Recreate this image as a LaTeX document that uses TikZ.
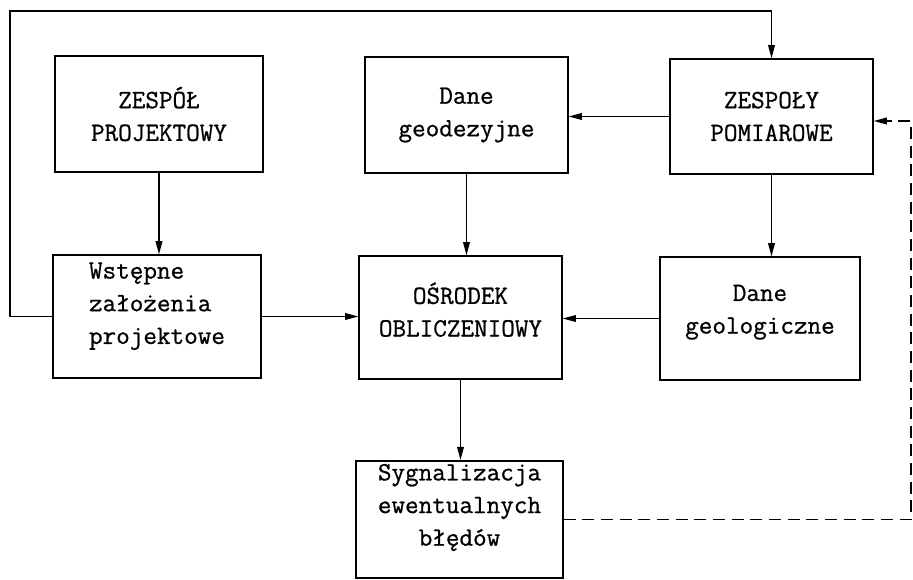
\documentclass[tikz,border=0pt]{standalone}
\usepackage{fontspec}
\newfontfamily\maszyna{Latin Modern Mono}[FakeBold=0.8]
\usetikzlibrary{arrows.meta}
\tikzset{every picture/.style={line width=1.1pt}}
\tikzset{box/.style={draw, inner sep=0.75pt, align=center, font=\maszyna\fontsize{19.8}{24.5}\selectfont},
  flow/.style={-{Triangle[length=10pt,width=5pt]}},
  feedback/.style={dash pattern=on 9pt off 5pt, -{Triangle[length=10pt,width=5pt]}}}

\begin{document}
\begin{tikzpicture}[x=0.75pt,y=0.75pt,yscale=-1,xscale=1]
        \useasboundingbox (0,0) rectangle (913,579);
        %Shape: Rectangle [id:zespol]
        \node [box, minimum width=156pt, minimum height=87pt] (zespol) at (159,114) {ZESPÓŁ\\PROJEKTOWY};
        %Shape: Rectangle [id:geodez]
        \node [box, minimum width=152pt, minimum height=87pt] (geodez) at (466.5,115) {Dane\\geodezyjne};
        %Shape: Rectangle [id:pomiar]
        \node [box, minimum width=152pt, minimum height=86pt] (pomiar) at (771.5,116.5) {ZESPOŁY\\POMIAROWE};
        %Shape: Rectangle [id:zalozenia]
        \node [box, align=left, text depth=20pt, minimum width=156pt, minimum height=92pt] (zalozenia) at (157,316.5) {Wstępne\\założenia\\projektowe};
        %Shape: Rectangle [id:osrodek]
        \node [box, text depth=12pt, minimum width=152pt, minimum height=92pt] (osrodek) at (460.5,317.5) {OŚRODEK\\OBLICZENIOWY};
        %Shape: Rectangle [id:geolog]
        \node [box, text depth=14pt, minimum width=150pt, minimum height=92pt] (geolog) at (760,318.5) {Dane\\geologiczne};
        %Shape: Rectangle [id:sygnal]
        \node [box, text depth=22pt, minimum width=155pt, minimum height=88pt] (sygnal) at (459.5,519.5) {Sygnalizacja\\ewentualnych\\błędów};
        % Corners of the return lines
        \coordinate (topleft) at (10,11);
        \coordinate (dashright) at (911,121);
        %Straight Lines
        \draw [flow] (zespol.south) -- (zespol.south |- zalozenia.north);
        \draw [flow] (geodez.south) -- (geodez.south |- osrodek.north);
        \draw [flow] (pomiar.west) -- (pomiar.west -| geodez.east);
        \draw [flow] (pomiar.south) -- (pomiar.south |- geolog.north);
        \draw [flow] (zalozenia.east) -- (zalozenia.east -| osrodek.west);
        \draw [flow] (geolog.west) -- (geolog.west -| osrodek.east);
        \draw [flow] (osrodek.south) -- (osrodek.south |- sygnal.north);
        %Return Lines
        \draw [flow] (zalozenia.west) -| (topleft) -| (pomiar.north);
        \draw [feedback] (sygnal.east) -| (dashright) -- (dashright -| pomiar.east);
\end{tikzpicture}
\end{document}
